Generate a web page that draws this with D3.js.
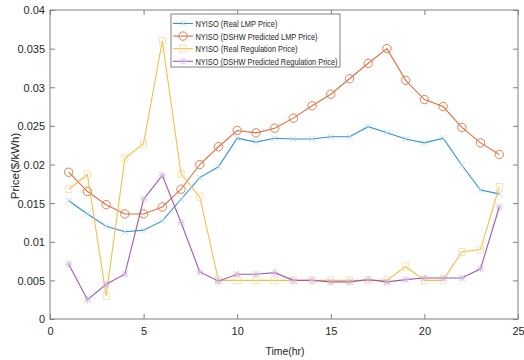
<!DOCTYPE html>
<html><head><meta charset="utf-8">
<script src="https://cdn.jsdelivr.net/npm/d3@7"></script>
<style>body{margin:0;background:#fff}svg{display:block}text{font-family:"Liberation Sans",Arial,sans-serif;fill:#262626}</style>
</head><body><svg id="c" width="524" height="360"></svg>
<script>
const hours = d3.range(1, 25);
const realLMP = [0.0153,0.0136,0.0120,0.0113,0.0115,0.0127,0.0155,0.0183,0.0197,0.0234,0.0229,0.0234,0.0233,0.0233,0.0236,0.0236,0.0249,0.0241,0.0233,0.0228,0.0234,0.0199,0.0167,0.0162];
const predLMP = [0.0190,0.0165,0.0148,0.0136,0.0136,0.0145,0.0168,0.0200,0.0223,0.0244,0.0241,0.0247,0.0260,0.0276,0.0291,0.0311,0.0331,0.0350,0.0309,0.0284,0.0275,0.0248,0.0228,0.0213];
const realReg = [0.0168,0.0187,0.0030,0.0208,0.0227,0.0360,0.0188,0.0158,0.0050,0.0050,0.0050,0.0050,0.0050,0.0050,0.0050,0.0050,0.0050,0.0050,0.0068,0.0050,0.0050,0.0087,0.0090,0.0171];
const predReg = [0.0071,0.0025,0.0045,0.0058,0.0155,0.0186,0.0125,0.0061,0.0049,0.0058,0.0058,0.0060,0.0050,0.0050,0.0048,0.0048,0.0051,0.0048,0.0051,0.0053,0.0053,0.0053,0.0065,0.0145];
const xTicks = [0,5,10,15,20,25];
const yTicks = [0,0.005,0.01,0.015,0.02,0.025,0.03,0.035,0.04];
const yTickLabels = ["0","0.005","0.01","0.015","0.02","0.025","0.03","0.035","0.04"];
const seriesNames = ["NYISO (Real LMP Price)","NYISO (DSHW Predicted LMP Price)","NYISO (Real Regulation Price)","NYISO (DSHW Predicted Regulation Price)"];
const seriesColors = ["#2f93d3","#e0703f","#f2c04a","#9d5bb0"];
const markerColors = ["#a9d2ee","#e0703f","#f5dc9e","#cfaede"];
const markerTypes = ["x","o","s","*"];
const seriesData = [realLMP, predLMP, realReg, predReg];

const svg = d3.select("#c");
const L=50, R=518, T=10, B=319;
const x = d3.scaleLinear().domain([0,25]).range([L,R]);
const y = d3.scaleLinear().domain([0,0.04]).range([B,T]);
const frame = "#808080";

svg.append("rect").attr("x",L).attr("y",T).attr("width",R-L).attr("height",B-T).attr("fill","none").attr("stroke",frame).attr("stroke-width",1);

const xb = svg.append("g").attr("transform",`translate(0,${B})`).call(d3.axisBottom(x).tickValues(xTicks).tickSizeInner(-5).tickSizeOuter(0).tickPadding(7));
const xt = svg.append("g").attr("transform",`translate(0,${T})`).call(d3.axisTop(x).tickValues(xTicks).tickSizeInner(-5).tickSizeOuter(0).tickFormat(""));
const yl = svg.append("g").attr("transform",`translate(${L},0)`).call(d3.axisLeft(y).tickValues(yTicks).tickSizeInner(-5).tickSizeOuter(0).tickPadding(5).tickFormat((d,i)=>yTickLabels[i]));
const yr = svg.append("g").attr("transform",`translate(${R},0)`).call(d3.axisRight(y).tickValues(yTicks).tickSizeInner(-5).tickSizeOuter(0).tickFormat(""));
[xb,xt,yl,yr].forEach(g=>{g.select(".domain").remove();g.selectAll("line").attr("stroke",frame);g.selectAll("text").attr("font-size",11).attr("fill","#262626").attr("font-family","Liberation Sans, Arial, sans-serif");});
xb.selectAll("text").attr("dy",null).attr("y",16);
yl.selectAll("text").attr("dy","0.36em");

svg.append("text").attr("x",285).attr("y",355).attr("text-anchor","middle").attr("font-size",11.5).attr("textLength",39).attr("lengthAdjust","spacingAndGlyphs").text("Time(hr)");
svg.append("text").attr("transform","translate(19,166) rotate(-90)").attr("text-anchor","middle").attr("font-size",11.5).text("Price($/kWh)");

function marker(g, type, cx, cy, color){
  if(type==="x"){
    g.append("path").attr("d",`M${cx-3},${cy-3}L${cx+3},${cy+3}M${cx-3},${cy+3}L${cx+3},${cy-3}`).attr("stroke",color).attr("stroke-width",0.8);
  } else if(type==="o"){
    g.append("circle").attr("cx",cx).attr("cy",cy).attr("r",4.2).attr("fill","none").attr("stroke",color).attr("stroke-width",0.9);
  } else if(type==="s"){
    g.append("rect").attr("x",cx-3).attr("y",cy-3.5).attr("width",6).attr("height",7).attr("fill","none").attr("stroke",color).attr("stroke-width",0.8);
  } else {
    g.append("path").attr("d",`M${cx-3},${cy-3}L${cx+3},${cy+3}M${cx-3},${cy+3}L${cx+3},${cy-3}M${cx},${cy-3.5}L${cx},${cy+3.5}M${cx-3.5},${cy}L${cx+3.5},${cy}`).attr("stroke",color).attr("stroke-width",0.8);
  }
}

const line = d3.line().x((d,i)=>x(hours[i])).y(d=>y(d));
seriesData.forEach((data,k)=>{
  const g = svg.append("g");
  g.append("path").datum(data).attr("d",line).attr("fill","none").attr("stroke",seriesColors[k]).attr("stroke-width",1.1);
  data.forEach((v,i)=>marker(g, markerTypes[k], x(hours[i]), y(v), markerColors[k]));
});

// legend
const lg = svg.append("g");
lg.append("rect").attr("x",171).attr("y",14).attr("width",169).attr("height",53).attr("fill","#fff").attr("stroke",frame).attr("stroke-width",1);
const legendWidths = [82,122,102,142];
seriesNames.forEach((name,k)=>{
  const ly = 23.5 + k*12.6;
  lg.append("line").attr("x1",173).attr("x2",193).attr("y1",ly).attr("y2",ly).attr("stroke",seriesColors[k]).attr("stroke-width",1.1);
  marker(lg, markerTypes[k], 183, ly, markerColors[k]);
  lg.append("text").attr("x",195.5).attr("y",ly+3.5).attr("font-size",9.5)
    .attr("textLength",legendWidths[k]).attr("lengthAdjust","spacingAndGlyphs").text(name);
});
</script></body></html>
